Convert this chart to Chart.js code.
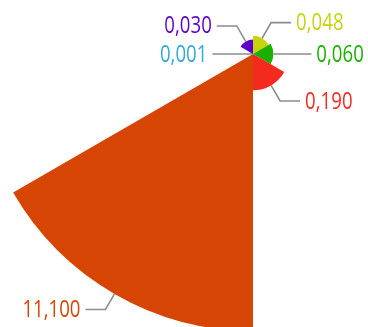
<!DOCTYPE html>
<html>
<head>
<meta charset="utf-8">
<script src="https://cdn.jsdelivr.net/npm/chart.js@4"></script>
<style>
  html, body { margin: 0; padding: 0; background: #fff; overflow: hidden; width: 368px; height: 327px; }
  #wrap { position: relative; width: 368px; height: 327px; overflow: hidden; }
  #rose { position: absolute; left: -24px; top: -223px; }
</style>
</head>
<body>
<div id="wrap"><canvas id="rose" width="554" height="554"></canvas></div>
<script>
// slices clockwise from 12 o'clock
const categories = ['A', 'B', 'C', 'D', 'E', 'F'];
const values = [0.048, 0.060, 0.190, 11.100, 0.001, 0.030];
const colors = ['#c6d410', '#19b000', '#f42a1e', '#d74505', '#31a9e0', '#5c00c8'];

// area-proportional rose: radius goes with sqrt(value)
const radii = values.map(v => Math.sqrt(v));

const fmt = v => v.toFixed(3).replace('.', ',');

const calloutPlugin = {
    id: 'callouts',
    afterDatasetsDraw: function (chart) {
        const ctx = chart.ctx;
        const meta = chart.getDatasetMeta(0);
        meta.data.forEach(function (arc, i) {
            const p = arc.getProps(['x', 'y', 'startAngle', 'endAngle', 'outerRadius'], true);
            const mid = (p.startAngle + p.endAngle) / 2;
            const cx = Math.cos(mid), sy = Math.sin(mid);
            const x0 = p.x + cx * p.outerRadius, y0 = p.y + sy * p.outerRadius;
            const x1 = x0 + cx * 18, y1 = y0 + sy * 18;
            const dir = cx >= -0.01 ? 1 : -1;
            const x2 = x1 + dir * 20;
            ctx.save();
            ctx.strokeStyle = '#8c8c8c';
            ctx.lineWidth = 1.6;
            ctx.beginPath();
            ctx.moveTo(x0, y0);
            ctx.lineTo(x1, y1);
            ctx.lineTo(x2, y1);
            ctx.stroke();
            // narrow label text: squeeze a regular face horizontally
            ctx.translate(x2 + dir * 5, y1 + 1);
            ctx.scale(0.81, 1);
            ctx.font = '23px "Open Sans", sans-serif';
            ctx.textBaseline = 'middle';
            ctx.fillStyle = colors[i];
            ctx.textAlign = dir > 0 ? 'left' : 'right';
            ctx.fillText(fmt(values[i]), 0, 0);
            ctx.restore();
        });
    }
};

new Chart(document.getElementById('rose'), {
    type: 'polarArea',
    data: {
        labels: categories,
        datasets: [{
            data: radii,
            backgroundColor: colors,
            borderWidth: 0
        }]
    },
    options: {
        responsive: false,
        animation: false,
        layout: { padding: 0 },
        plugins: {
            legend: { display: false },
            tooltip: { enabled: false }
        },
        scales: {
            r: {
                min: 0,
                max: Math.sqrt(values[3]),
                ticks: { display: false },
                grid: { display: false },
                angleLines: { display: false },
                pointLabels: { display: false }
            }
        }
    },
    plugins: [calloutPlugin]
});
</script>
</body>
</html>
